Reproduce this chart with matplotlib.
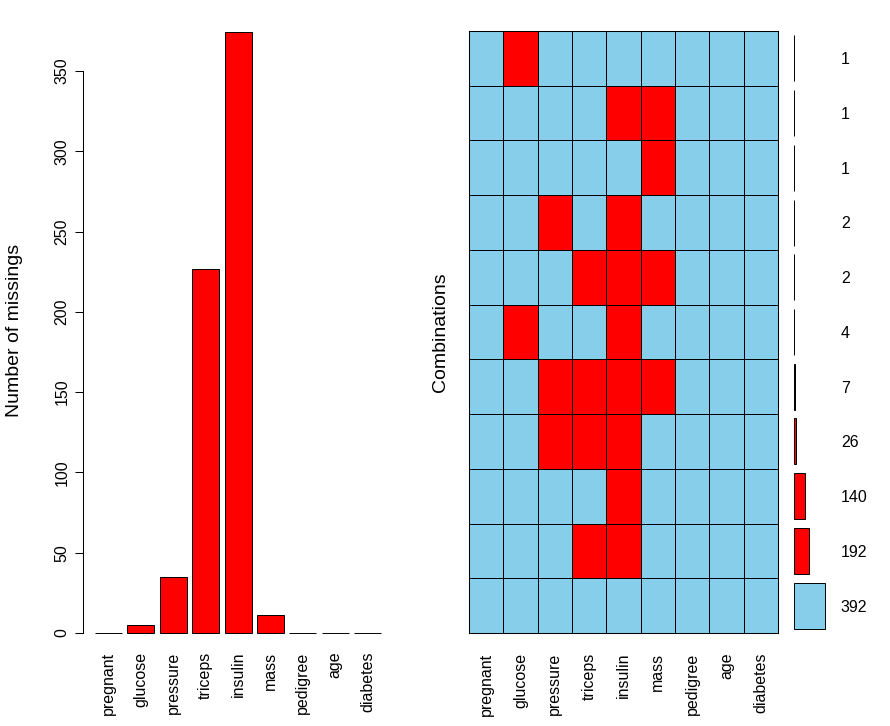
#! /usr/bin/env python3

"""
Missing-value overview: counts per variable and combinations of missings.
"""

import numpy as np
import matplotlib
matplotlib.use('Agg')
import matplotlib.pyplot as plt
from matplotlib.colors import ListedColormap

plt.rcParams['font.family'] = ['Liberation Sans', 'DejaVu Sans']

variables = ['pregnant', 'glucose', 'pressure', 'triceps', 'insulin',
             'mass', 'pedigree', 'age', 'diabetes']
n_missing = [0, 5, 35, 227, 374, 11, 0, 0, 0]

# combinations, top row first (1 = missing)
combos = [
    [0, 1, 0, 0, 0, 0, 0, 0, 0],
    [0, 0, 0, 0, 1, 1, 0, 0, 0],
    [0, 0, 0, 0, 0, 1, 0, 0, 0],
    [0, 0, 1, 0, 1, 0, 0, 0, 0],
    [0, 0, 0, 1, 1, 1, 0, 0, 0],
    [0, 1, 0, 0, 1, 0, 0, 0, 0],
    [0, 0, 1, 1, 1, 1, 0, 0, 0],
    [0, 0, 1, 1, 1, 0, 0, 0, 0],
    [0, 0, 0, 0, 1, 0, 0, 0, 0],
    [0, 0, 0, 1, 1, 0, 0, 0, 0],
    [0, 0, 0, 0, 0, 0, 0, 0, 0],
]
combo_counts = [1, 1, 1, 2, 2, 4, 7, 26, 140, 192, 392]

miss_col = '#FF0000'
obs_col = '#87CEEB'
tick_fs = 11.5
label_fs = 14

fig = plt.figure(figsize=(8.9, 7.26), dpi=100)

# left: barplot of missing counts
ax1 = fig.add_axes([0.0938, 0.1215, 0.3473, 0.8647])
xpos = 0.7 + 1.2 * np.arange(len(variables))
ax1.bar(xpos, n_missing, width=1.0, color=miss_col, edgecolor='black',
        linewidth=0.7)
ax1.set_xlim(-0.224, 11.224)
ax1.set_ylim(-3, 388)
ax1.set_yticks([0, 50, 100, 150, 200, 250, 300, 350])
ax1.tick_params(axis='y', length=6, width=0.75, pad=4, labelsize=tick_fs)
for lab in ax1.get_yticklabels():
    lab.set_rotation(90)
    lab.set_va('center')
ax1.set_xticks(xpos)
ax1.set_xticklabels(variables, rotation=90, fontsize=tick_fs)
ax1.tick_params(axis='x', length=0, pad=10)
for s in ['top', 'right', 'bottom']:
    ax1.spines[s].set_visible(False)
ax1.spines['left'].set_bounds(0, 350)
ax1.spines['left'].set_linewidth(0.75)
ax1.set_ylabel('Number of missings', fontsize=label_fs, va='center')
ax1.yaxis.set_label_coords(-0.2216, 0.49)

# right: grid of combinations
ax2 = fig.add_axes([0.527, 0.1281, 0.3472, 0.8292])
grid = np.array(combos)
ax2.pcolormesh(np.arange(grid.shape[1] + 1), np.arange(grid.shape[0] + 1),
               grid, cmap=ListedColormap([obs_col, miss_col]),
               edgecolors='black', linewidth=0.6, vmin=0, vmax=1)
ax2.set_xlim(0, grid.shape[1])
ax2.set_ylim(grid.shape[0], 0)
ax2.set_xticks(np.arange(grid.shape[1]) + 0.5)
ax2.set_xticklabels(variables, rotation=90, fontsize=tick_fs)
ax2.tick_params(axis='x', length=0, pad=14)
ax2.set_yticks([])
for s in ax2.spines.values():
    s.set_linewidth(0.75)
ax2.set_ylabel('Combinations', fontsize=label_fs, va='center')
ax2.yaxis.set_label_coords(-0.0939, 0.5)

# far right: bars of combination frequencies
ax3 = fig.add_axes([0.8921, 0.1281, 0.0354, 0.8292])
rows = np.arange(len(combo_counts)) + 0.5
bar_cols = [obs_col if c == 392 else miss_col for c in combo_counts]
bars = ax3.barh(rows, combo_counts, height=0.84, left=0, color=bar_cols,
                edgecolor='black', linewidth=0.7)
for b in bars:
    b.set_clip_on(False)
ax3.set_xlim(0, max(combo_counts))
ax3.set_ylim(len(combo_counts), 0)
for r, c in zip(rows, combo_counts):
    ax3.annotate(str(c), xy=(1, r), xycoords=('axes fraction', 'data'),
                 xytext=(11, -1), textcoords='offset points',
                 ha='left', va='center', fontsize=tick_fs)
ax3.axis('off')

fig.savefig('out.png', dpi=100)
